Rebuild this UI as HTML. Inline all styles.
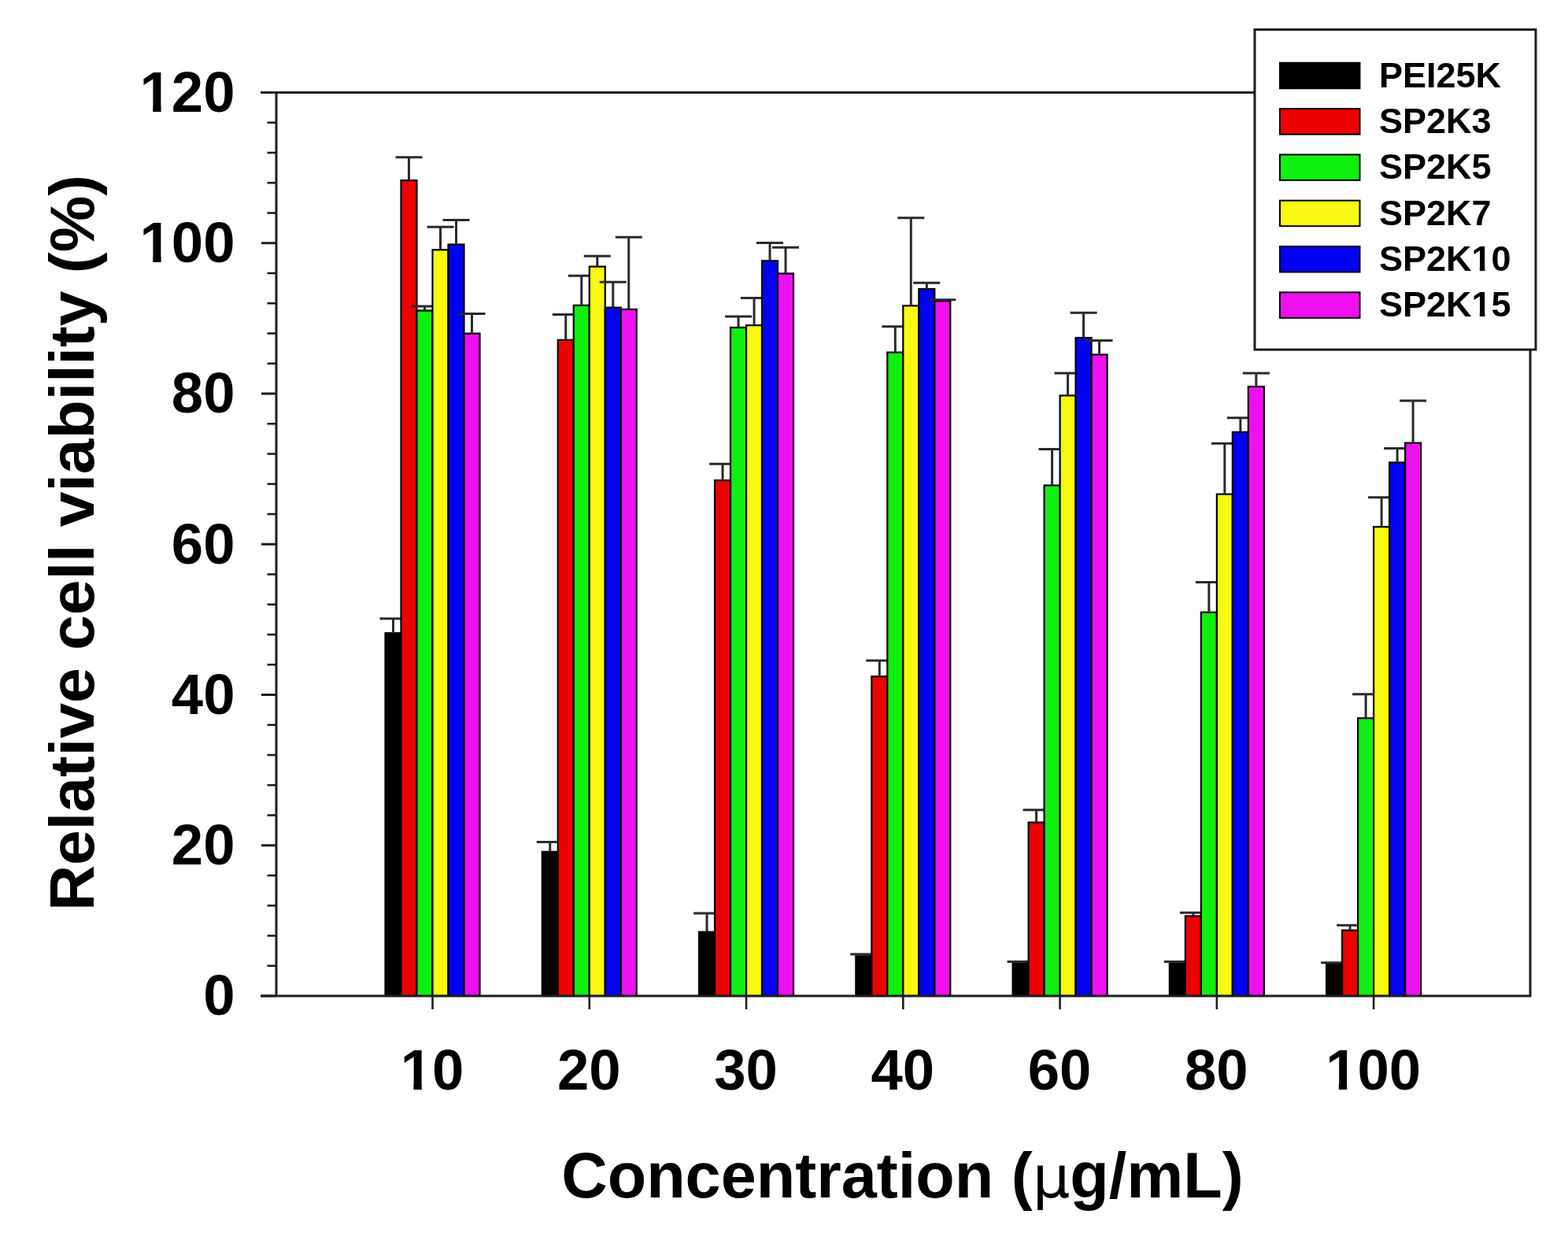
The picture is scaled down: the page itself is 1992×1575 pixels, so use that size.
<!DOCTYPE html>
<html><head><meta charset="utf-8"><title>Relative cell viability</title>
<style>html,body{margin:0;padding:0;background:#fff;}svg{display:block;}text{font-family:"Liberation Sans",Arial,sans-serif;font-weight:bold;fill:#000;}.mu{font-family:"DejaVu Sans","Liberation Sans",sans-serif;font-weight:normal;}</style></head><body>
<svg width="1992" height="1575" viewBox="0 0 1992 1575">
<rect x="0" y="0" width="1992" height="1575" fill="#fff"/>
<g shape-rendering="geometricPrecision">
<rect x="489.5" y="804.1" width="20" height="460.9" fill="#000000" stroke="#000" stroke-width="2.2"/>
<path d="M499.5 804.1V785.7M482.5 785.7H516.5" stroke="#2a2a2a" stroke-width="3" fill="none"/>
<rect x="509.5" y="229.1" width="20" height="1035.9" fill="#ee0000" stroke="#000" stroke-width="2.2"/>
<path d="M519.5 229.1V199.7M502.5 199.7H536.5" stroke="#2a2a2a" stroke-width="3" fill="none"/>
<rect x="529.5" y="394.5" width="20" height="870.5" fill="#10f010" stroke="#000" stroke-width="2.2"/>
<path d="M539.5 394.5V389M522.5 389H556.5" stroke="#2a2a2a" stroke-width="3" fill="none"/>
<rect x="549.5" y="317.3" width="20" height="947.7" fill="#f8f810" stroke="#000" stroke-width="2.2"/>
<path d="M559.5 317.3V288.3M542.5 288.3H576.5" stroke="#2a2a2a" stroke-width="3" fill="none"/>
<rect x="569.5" y="310.5" width="20" height="954.5" fill="#0000f4" stroke="#000" stroke-width="2.2"/>
<path d="M579.5 310.5V279.4M562.5 279.4H596.5" stroke="#2a2a2a" stroke-width="3" fill="none"/>
<rect x="589.5" y="423.6" width="20" height="841.4" fill="#ee10f0" stroke="#000" stroke-width="2.2"/>
<path d="M599.5 423.6V398.5M582.5 398.5H616.5" stroke="#2a2a2a" stroke-width="3" fill="none"/>
<rect x="688.77" y="1081.9" width="20" height="183.1" fill="#000000" stroke="#000" stroke-width="2.2"/>
<path d="M698.77 1081.9V1069.4M681.77 1069.4H715.77" stroke="#2a2a2a" stroke-width="3" fill="none"/>
<rect x="708.77" y="431.8" width="20" height="833.2" fill="#ee0000" stroke="#000" stroke-width="2.2"/>
<path d="M718.77 431.8V399.5M701.77 399.5H735.77" stroke="#2a2a2a" stroke-width="3" fill="none"/>
<rect x="728.77" y="387.8" width="20" height="877.2" fill="#10f010" stroke="#000" stroke-width="2.2"/>
<path d="M738.77 387.8V350.3M721.77 350.3H755.77" stroke="#2a2a2a" stroke-width="3" fill="none"/>
<rect x="748.77" y="338.6" width="20" height="926.4" fill="#f8f810" stroke="#000" stroke-width="2.2"/>
<path d="M758.77 338.6V325.2M741.77 325.2H775.77" stroke="#2a2a2a" stroke-width="3" fill="none"/>
<rect x="768.77" y="390.6" width="20" height="874.4" fill="#0000f4" stroke="#000" stroke-width="2.2"/>
<path d="M778.77 390.6V358.3M761.77 358.3H795.77" stroke="#2a2a2a" stroke-width="3" fill="none"/>
<rect x="788.77" y="392.9" width="20" height="872.1" fill="#ee10f0" stroke="#000" stroke-width="2.2"/>
<path d="M798.77 392.9V301.2M781.77 301.2H815.77" stroke="#2a2a2a" stroke-width="3" fill="none"/>
<rect x="888.04" y="1183.7" width="20" height="81.3" fill="#000000" stroke="#000" stroke-width="2.2"/>
<path d="M898.04 1183.7V1160.1M881.04 1160.1H915.04" stroke="#2a2a2a" stroke-width="3" fill="none"/>
<rect x="908.04" y="610.1" width="20" height="654.9" fill="#ee0000" stroke="#000" stroke-width="2.2"/>
<path d="M918.04 610.1V589.2M901.04 589.2H935.04" stroke="#2a2a2a" stroke-width="3" fill="none"/>
<rect x="928.04" y="416" width="20" height="849" fill="#10f010" stroke="#000" stroke-width="2.2"/>
<path d="M938.04 416V401.9M921.04 401.9H955.04" stroke="#2a2a2a" stroke-width="3" fill="none"/>
<rect x="948.04" y="413.2" width="20" height="851.8" fill="#f8f810" stroke="#000" stroke-width="2.2"/>
<path d="M958.04 413.2V378.6M941.04 378.6H975.04" stroke="#2a2a2a" stroke-width="3" fill="none"/>
<rect x="968.04" y="331.3" width="20" height="933.7" fill="#0000f4" stroke="#000" stroke-width="2.2"/>
<path d="M978.04 331.3V308.6M961.04 308.6H995.04" stroke="#2a2a2a" stroke-width="3" fill="none"/>
<rect x="988.04" y="347.4" width="20" height="917.6" fill="#ee10f0" stroke="#000" stroke-width="2.2"/>
<path d="M998.04 347.4V314.3M981.04 314.3H1015.04" stroke="#2a2a2a" stroke-width="3" fill="none"/>
<rect x="1087.31" y="1214.3" width="20" height="50.7" fill="#000000" stroke="#000" stroke-width="2.2"/>
<path d="M1097.31 1214.3V1212.1M1080.31 1212.1H1114.31" stroke="#2a2a2a" stroke-width="3" fill="none"/>
<rect x="1107.31" y="859.2" width="20" height="405.8" fill="#ee0000" stroke="#000" stroke-width="2.2"/>
<path d="M1117.31 859.2V839M1100.31 839H1134.31" stroke="#2a2a2a" stroke-width="3" fill="none"/>
<rect x="1127.31" y="447.6" width="20" height="817.4" fill="#10f010" stroke="#000" stroke-width="2.2"/>
<path d="M1137.31 447.6V414.7M1120.31 414.7H1154.31" stroke="#2a2a2a" stroke-width="3" fill="none"/>
<rect x="1147.31" y="388.3" width="20" height="876.7" fill="#f8f810" stroke="#000" stroke-width="2.2"/>
<path d="M1157.31 388.3V276.7M1140.31 276.7H1174.31" stroke="#2a2a2a" stroke-width="3" fill="none"/>
<rect x="1167.31" y="367" width="20" height="898" fill="#0000f4" stroke="#000" stroke-width="2.2"/>
<path d="M1177.31 367V359.3M1160.31 359.3H1194.31" stroke="#2a2a2a" stroke-width="3" fill="none"/>
<rect x="1187.31" y="382.3" width="20" height="882.7" fill="#ee10f0" stroke="#000" stroke-width="2.2"/>
<path d="M1197.31 382.3V380.7M1180.31 380.7H1214.31" stroke="#2a2a2a" stroke-width="3" fill="none"/>
<rect x="1286.58" y="1222.2" width="20" height="42.8" fill="#000000" stroke="#000" stroke-width="2.2"/>
<path d="M1279.58 1221.6H1313.58" stroke="#2a2a2a" stroke-width="3" fill="none"/>
<rect x="1306.58" y="1044.6" width="20" height="220.4" fill="#ee0000" stroke="#000" stroke-width="2.2"/>
<path d="M1316.58 1044.6V1028.7M1299.58 1028.7H1333.58" stroke="#2a2a2a" stroke-width="3" fill="none"/>
<rect x="1326.58" y="616.5" width="20" height="648.5" fill="#10f010" stroke="#000" stroke-width="2.2"/>
<path d="M1336.58 616.5V570.5M1319.58 570.5H1353.58" stroke="#2a2a2a" stroke-width="3" fill="none"/>
<rect x="1346.58" y="502.4" width="20" height="762.6" fill="#f8f810" stroke="#000" stroke-width="2.2"/>
<path d="M1356.58 502.4V474M1339.58 474H1373.58" stroke="#2a2a2a" stroke-width="3" fill="none"/>
<rect x="1366.58" y="429" width="20" height="836" fill="#0000f4" stroke="#000" stroke-width="2.2"/>
<path d="M1376.58 429V397.3M1359.58 397.3H1393.58" stroke="#2a2a2a" stroke-width="3" fill="none"/>
<rect x="1386.58" y="450.4" width="20" height="814.6" fill="#ee10f0" stroke="#000" stroke-width="2.2"/>
<path d="M1396.58 450.4V432.5M1379.58 432.5H1413.58" stroke="#2a2a2a" stroke-width="3" fill="none"/>
<rect x="1485.85" y="1222.5" width="20" height="42.5" fill="#000000" stroke="#000" stroke-width="2.2"/>
<path d="M1478.85 1221.5H1512.85" stroke="#2a2a2a" stroke-width="3" fill="none"/>
<rect x="1505.85" y="1163.5" width="20" height="101.5" fill="#ee0000" stroke="#000" stroke-width="2.2"/>
<path d="M1515.85 1163.5V1159.3M1498.85 1159.3H1532.85" stroke="#2a2a2a" stroke-width="3" fill="none"/>
<rect x="1525.85" y="777.7" width="20" height="487.3" fill="#10f010" stroke="#000" stroke-width="2.2"/>
<path d="M1535.85 777.7V739.6M1518.85 739.6H1552.85" stroke="#2a2a2a" stroke-width="3" fill="none"/>
<rect x="1545.85" y="627.7" width="20" height="637.3" fill="#f8f810" stroke="#000" stroke-width="2.2"/>
<path d="M1555.85 627.7V563.2M1538.85 563.2H1572.85" stroke="#2a2a2a" stroke-width="3" fill="none"/>
<rect x="1565.85" y="548.8" width="20" height="716.2" fill="#0000f4" stroke="#000" stroke-width="2.2"/>
<path d="M1575.85 548.8V530.8M1558.85 530.8H1592.85" stroke="#2a2a2a" stroke-width="3" fill="none"/>
<rect x="1585.85" y="491" width="20" height="774" fill="#ee10f0" stroke="#000" stroke-width="2.2"/>
<path d="M1595.85 491V474M1578.85 474H1612.85" stroke="#2a2a2a" stroke-width="3" fill="none"/>
<rect x="1685.12" y="1224.1" width="20" height="40.9" fill="#000000" stroke="#000" stroke-width="2.2"/>
<path d="M1678.12 1222.8H1712.12" stroke="#2a2a2a" stroke-width="3" fill="none"/>
<rect x="1705.12" y="1181.6" width="20" height="83.4" fill="#ee0000" stroke="#000" stroke-width="2.2"/>
<path d="M1715.12 1181.6V1175.2M1698.12 1175.2H1732.12" stroke="#2a2a2a" stroke-width="3" fill="none"/>
<rect x="1725.12" y="912.2" width="20" height="352.8" fill="#10f010" stroke="#000" stroke-width="2.2"/>
<path d="M1735.12 912.2V881.7M1718.12 881.7H1752.12" stroke="#2a2a2a" stroke-width="3" fill="none"/>
<rect x="1745.12" y="669.2" width="20" height="595.8" fill="#f8f810" stroke="#000" stroke-width="2.2"/>
<path d="M1755.12 669.2V631.7M1738.12 631.7H1772.12" stroke="#2a2a2a" stroke-width="3" fill="none"/>
<rect x="1765.12" y="587.4" width="20" height="677.6" fill="#0000f4" stroke="#000" stroke-width="2.2"/>
<path d="M1775.12 587.4V569.6M1758.12 569.6H1792.12" stroke="#2a2a2a" stroke-width="3" fill="none"/>
<rect x="1785.12" y="562.6" width="20" height="702.4" fill="#ee10f0" stroke="#000" stroke-width="2.2"/>
<path d="M1795.12 562.6V509M1778.12 509H1812.12" stroke="#2a2a2a" stroke-width="3" fill="none"/>
</g>
<g stroke="#1e1e1e" stroke-width="3" fill="none">
<path d="M351 117.5V1265"/>
<path d="M331 1265H1944V117.5H331"/>
<path d="M332 1265H351" stroke-width="3"/>
<path d="M339.5 1226.75H351" stroke-width="2.6"/>
<path d="M339.5 1188.5H351" stroke-width="2.6"/>
<path d="M339.5 1150.25H351" stroke-width="2.6"/>
<path d="M339.5 1112H351" stroke-width="2.6"/>
<path d="M332 1073.75H351" stroke-width="3"/>
<path d="M339.5 1035.5H351" stroke-width="2.6"/>
<path d="M339.5 997.25H351" stroke-width="2.6"/>
<path d="M339.5 959H351" stroke-width="2.6"/>
<path d="M339.5 920.75H351" stroke-width="2.6"/>
<path d="M332 882.5H351" stroke-width="3"/>
<path d="M339.5 844.25H351" stroke-width="2.6"/>
<path d="M339.5 806H351" stroke-width="2.6"/>
<path d="M339.5 767.75H351" stroke-width="2.6"/>
<path d="M339.5 729.5H351" stroke-width="2.6"/>
<path d="M332 691.25H351" stroke-width="3"/>
<path d="M339.5 653H351" stroke-width="2.6"/>
<path d="M339.5 614.75H351" stroke-width="2.6"/>
<path d="M339.5 576.5H351" stroke-width="2.6"/>
<path d="M339.5 538.25H351" stroke-width="2.6"/>
<path d="M332 500H351" stroke-width="3"/>
<path d="M339.5 461.75H351" stroke-width="2.6"/>
<path d="M339.5 423.5H351" stroke-width="2.6"/>
<path d="M339.5 385.25H351" stroke-width="2.6"/>
<path d="M339.5 347H351" stroke-width="2.6"/>
<path d="M332 308.75H351" stroke-width="3"/>
<path d="M339.5 270.5H351" stroke-width="2.6"/>
<path d="M339.5 232.25H351" stroke-width="2.6"/>
<path d="M339.5 194H351" stroke-width="2.6"/>
<path d="M339.5 155.75H351" stroke-width="2.6"/>
<path d="M332 117.5H351" stroke-width="3"/>
<path d="M549.5 1265V1282" stroke-width="2.6"/>
<path d="M748.77 1265V1282" stroke-width="2.6"/>
<path d="M948.04 1265V1282" stroke-width="2.6"/>
<path d="M1147.31 1265V1282" stroke-width="2.6"/>
<path d="M1346.58 1265V1282" stroke-width="2.6"/>
<path d="M1545.85 1265V1282" stroke-width="2.6"/>
<path d="M1745.12 1265V1282" stroke-width="2.6"/>
</g>
<text x="298.5" y="1289.3" font-size="72.5" text-anchor="end">0</text>
<text x="298.5" y="1098.05" font-size="72.5" text-anchor="end">20</text>
<text x="298.5" y="906.8" font-size="72.5" text-anchor="end">40</text>
<text x="298.5" y="715.55" font-size="72.5" text-anchor="end">60</text>
<text x="298.5" y="524.3" font-size="72.5" text-anchor="end">80</text>
<text x="298.5" y="333.05" font-size="72.5" text-anchor="end">100</text>
<text x="298.5" y="141.8" font-size="72.5" text-anchor="end">120</text>
<text x="549" y="1384" font-size="72.5" text-anchor="middle">10</text>
<text x="748.27" y="1384" font-size="72.5" text-anchor="middle">20</text>
<text x="947.54" y="1384" font-size="72.5" text-anchor="middle">30</text>
<text x="1146.81" y="1384" font-size="72.5" text-anchor="middle">40</text>
<text x="1346.08" y="1384" font-size="72.5" text-anchor="middle">60</text>
<text x="1545.35" y="1384" font-size="72.5" text-anchor="middle">80</text>
<text x="1744.62" y="1384" font-size="72.5" text-anchor="middle">100</text>
<text x="1146.5" y="1520.5" font-size="81" text-anchor="middle">Concentration (<tspan class="mu" font-size="75">μ</tspan>g/mL)</text>
<text transform="translate(118.5 689.5) rotate(-90)" x="0" y="0" font-size="80.5" text-anchor="middle">Relative cell viability (%)</text>
<rect x="1594" y="37.6" width="357" height="406.5" fill="#fff" stroke="#1e1e1e" stroke-width="3"/>
<rect x="1626" y="79.8" width="101.5" height="32.5" fill="#000000" stroke="#000" stroke-width="2"/>
<text x="1752" y="110.7" font-size="45">PEI25K</text>
<rect x="1626" y="138.1" width="101.5" height="32.5" fill="#ee0000" stroke="#000" stroke-width="2"/>
<text x="1752" y="169" font-size="45">SP2K3</text>
<rect x="1626" y="196.4" width="101.5" height="32.5" fill="#10f010" stroke="#000" stroke-width="2"/>
<text x="1752" y="227.3" font-size="45">SP2K5</text>
<rect x="1626" y="254.7" width="101.5" height="32.5" fill="#f8f810" stroke="#000" stroke-width="2"/>
<text x="1752" y="285.6" font-size="45">SP2K7</text>
<rect x="1626" y="313" width="101.5" height="32.5" fill="#0000f4" stroke="#000" stroke-width="2"/>
<text x="1752" y="343.9" font-size="45">SP2K10</text>
<rect x="1626" y="371.3" width="101.5" height="32.5" fill="#ee10f0" stroke="#000" stroke-width="2"/>
<text x="1752" y="402.2" font-size="45">SP2K15</text>
<rect x="180.78" y="324.85" width="13.47" height="10.2" fill="#fff"/>
<rect x="204.61" y="324.85" width="12.72" height="10.2" fill="#fff"/>
<rect x="180.78" y="133.6" width="13.47" height="10.2" fill="#fff"/>
<rect x="204.61" y="133.6" width="12.72" height="10.2" fill="#fff"/>
<rect x="511.93" y="1375.8" width="13.47" height="10.2" fill="#fff"/>
<rect x="535.75" y="1375.8" width="12.72" height="10.2" fill="#fff"/>
<rect x="1687.39" y="1375.8" width="13.47" height="10.2" fill="#fff"/>
<rect x="1711.21" y="1375.8" width="12.72" height="10.2" fill="#fff"/>
<rect x="1871.19" y="338.51" width="8.67" height="7.39" fill="#fff"/>
<rect x="1886.43" y="338.51" width="8.27" height="7.39" fill="#fff"/>
<rect x="1871.19" y="396.81" width="8.67" height="7.39" fill="#fff"/>
<rect x="1886.43" y="396.81" width="8.27" height="7.39" fill="#fff"/>
</svg></body></html>
